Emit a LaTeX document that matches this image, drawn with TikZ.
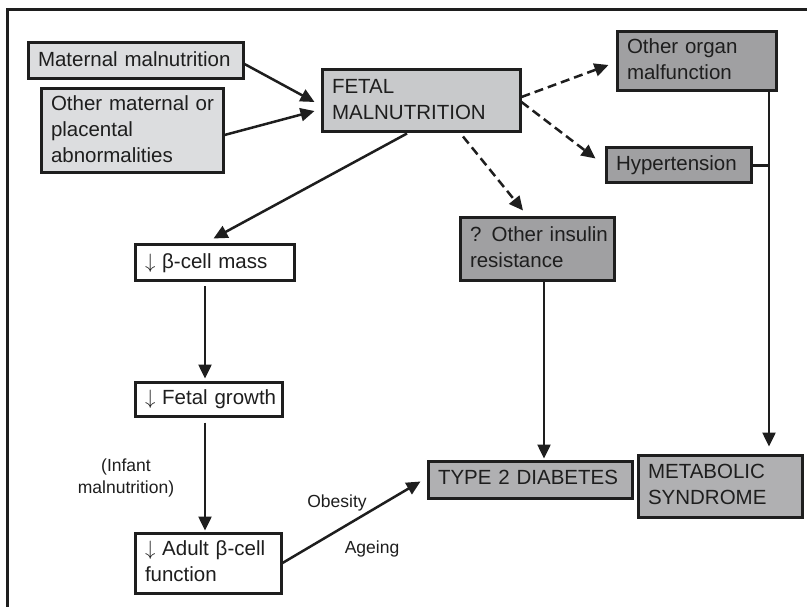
\documentclass[tikz,border=0pt]{standalone}
\usepackage{fontspec}
\setmainfont{Liberation Sans}
\usetikzlibrary{arrows.meta,calc}
\definecolor{lineC}{HTML}{1E1E1E}
\definecolor{fillA}{HTML}{DCDDDF}
\definecolor{fillB}{HTML}{C8C9CB}
\definecolor{fillC}{HTML}{A0A0A2}
\definecolor{fillD}{HTML}{B0B0B2}
\tikzset{
  box/.style={draw=lineC, line width=3pt, rectangle, inner xsep=10pt, inner ysep=0pt,
    align=left, text=lineC, font=\fontsize{20.5}{26}\selectfont},
  arr/.style={draw=lineC, line width=2.5pt, -{Triangle[length=14pt,width=13pt]}},
  darr/.style={arr, dash pattern=on 9pt off 5pt},
  plainline/.style={draw=lineC, line width=2.5pt},
  lbl/.style={text=lineC, font=\fontsize{17.5}{22}\selectfont, align=center, inner sep=0pt}
}
\newcommand{\bx}[7]{% name, cx, cy, w, h, fill, text
  \node[box, fill=#6, minimum width=#4pt, minimum height=#5pt, text width=#4pt-20pt] (#1) at (#2,#3)
    {\begin{tabular}{@{}l@{}}#7\end{tabular}};}
\newcommand{\dn}{\(\downarrow\)}
\begin{document}
\begin{tikzpicture}[x=1pt,y=-1pt]
\useasboundingbox (0,0) rectangle (807,607);
\fill[white] (0,0) rectangle (807,607);
\draw[lineC, line width=3pt] (7,607) -- (7,10) -- (810,10);

\bx{mm}{135.5}{61}{215}{36}{fillA}{Maternal malnutrition}
\bx{om}{132}{131}{182}{84}{fillA}{Other maternal or\\placental\\abnormalities}
\bx{fm}{421}{101}{198}{62}{fillB}{FETAL\\MALNUTRITION}
\bx{org}{696.5}{61.5}{159}{59}{fillC}{Other organ\\malfunction}
\bx{hyp}{678.5}{165.5}{145}{35}{fillC}{Hypertension}
\bx{ins}{537}{249.5}{154}{63}{fillC}{? Other insulin\\resistance}
\bx{bm}{214.5}{263}{159}{36}{white}{\dn{} β-cell mass}
\bx{fg}{208.5}{399}{147}{34}{white}{\dn{} Fetal growth}
\bx{ab}{208}{563}{146}{60}{white}{\dn{} Adult β-cell\\function}
\bx{t2}{530}{479.5}{204}{37}{fillD}{TYPE 2 DIABETES}
\bx{ms}{720}{486}{164}{62}{fillD}{METABOLIC\\SYNDROME}

\node[lbl] (inf) at (126,478) {(Infant\\malnutrition)};
\node[lbl] (ob) at (337,503) {Obesity};
\node[lbl] (ag) at (372,549) {Ageing};

\coordinate (c1) at (544,0);
\coordinate (c2) at (769,0);

\draw[arr] ($(mm.east)+(0,3)$) -- ($(fm.west)+(-6,1)$);
\draw[arr] ($(om.east)+(0,4)$) -- ($(fm.west)+(-6,10)$);
\draw[arr] ($(fm.south)+(-14,0)$) -- ($(bm.north)+(-1,-5)$);
\draw[arr] ($(bm.south)+(-9.5,4)$) -- ($(fg.north)+(-3.5,-2)$);
\draw[arr] ($(fg.south)+(-3.5,5)$) -- ($(ab.north)+(-3,-1)$);
\draw[arr] (ab.east) -- ($(t2.west)+(-6,2)$);
\draw[arr] (ins.south -| c1) -- ($(t2.north -| c1)+(0,-1)$);
\draw[plainline] (org.south -| c2) -- (hyp.east -| c2);
\draw[arr] (hyp.east -| c2) -- ($(ms.north -| c2)+(0,-7)$);
\draw[plainline] (hyp.east) -- (hyp.east -| c2);
\draw[darr] ($(fm.east)+(0,-4)$) -- ($(org.west)+(-7,3.5)$);
\draw[darr] ($(fm.east)+(0,1)$) -- ($(hyp.west)+(-9,-7)$);
\draw[darr] ($(fm.south)+(42,3)$) -- ($(ins.north)+(-14,-6)$);
\end{tikzpicture}
\end{document}
